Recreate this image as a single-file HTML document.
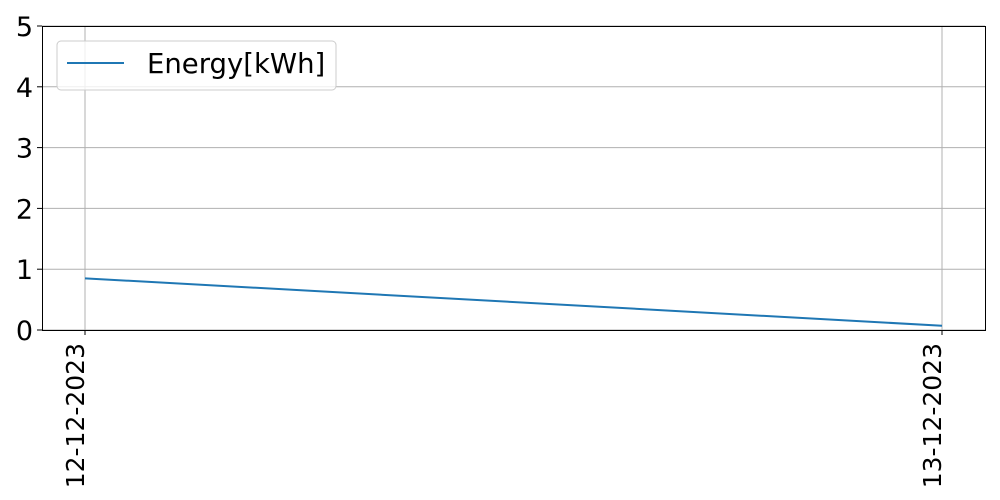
<!DOCTYPE html>
<html>
<head>
<meta charset="utf-8">
<style>
html,body{margin:0;padding:0;background:#fff;}
svg{display:block;font-family:"DejaVu Sans","Liberation Sans",sans-serif;}
</style>
</head>
<body>
<svg id="chart" width="1000" height="500" viewBox="0 0 1000 500" xmlns="http://www.w3.org/2000/svg">
<g id="grid"></g>
<g id="series"></g>
<rect x="42.5" y="26.5" width="943" height="304" fill="none" stroke="#000" stroke-width="1"/>
<g id="yticks"></g>
<g id="xticks"></g>
<g>
<rect x="57" y="41" width="279" height="49" rx="4" fill="#fff" fill-opacity="0.8" stroke="#ccc"/>
<line x1="67" y1="63" x2="124" y2="63" stroke="#1f77b4" stroke-width="2"/>
<text x="147" y="73" font-size="27.5" fill="#000">Energy[kWh]</text>
</g>
</svg>
<script>
const categories = ["12-12-2023","13-12-2023"];
const energyValues = [0.85, 0.07];
const yTicks = [0,1,2,3,4,5];

const NS="http://www.w3.org/2000/svg";
const plot={left:42,right:985,top:26,bottom:330};
const xPos=[85,942];
function xScale(i){return xPos[0]+(xPos[1]-xPos[0])*i/(categories.length-1);}
function yScale(v){return plot.bottom-(plot.bottom-plot.top)*v/5;}
function mk(tag,attrs,parent){const e=document.createElementNS(NS,tag);for(const k in attrs)e.setAttribute(k,attrs[k]);parent.appendChild(e);return e;}

const grid=document.getElementById('grid');
const yt=document.getElementById('yticks');
const xt=document.getElementById('xticks');
const series=document.getElementById('series');

yTicks.forEach(v=>{
  const y=yScale(v);
  const g=mk('line',{x1:plot.left,x2:plot.right,y1:y,y2:y,stroke:'#b0b0b0','stroke-width':1},grid);
  
  
  const t=mk('line',{x1:plot.left-5,x2:plot.left,y1:y,y2:y,stroke:'#000'},yt);
  
  
  const l=mk('text',{x:plot.left-9,y:y+10,'text-anchor':'end','font-size':27},yt);
  l.textContent=v;
  
  
});

categories.forEach((c,i)=>{
  const x=xScale(i);
  const g=mk('line',{x1:x,x2:x,y1:plot.top,y2:plot.bottom,stroke:'#b0b0b0','stroke-width':1},grid);
  
  
  const t=mk('line',{x1:x,x2:x,y1:plot.bottom,y2:plot.bottom+5,stroke:'#000'},xt);
  
  
  const l=mk('text',{x:0,y:0,'text-anchor':'end','font-size':25,transform:`translate(${x-1},${plot.bottom+13}) rotate(-90)`},xt);
  l.textContent=c;
  
  
});

const pts=energyValues.map((v,i)=>xScale(i)+','+yScale(v)).join(' ');
const line=mk('polyline',{points:pts,fill:'none',stroke:'#1f77b4','stroke-width':2},series);


</script>
</body>
</html>
